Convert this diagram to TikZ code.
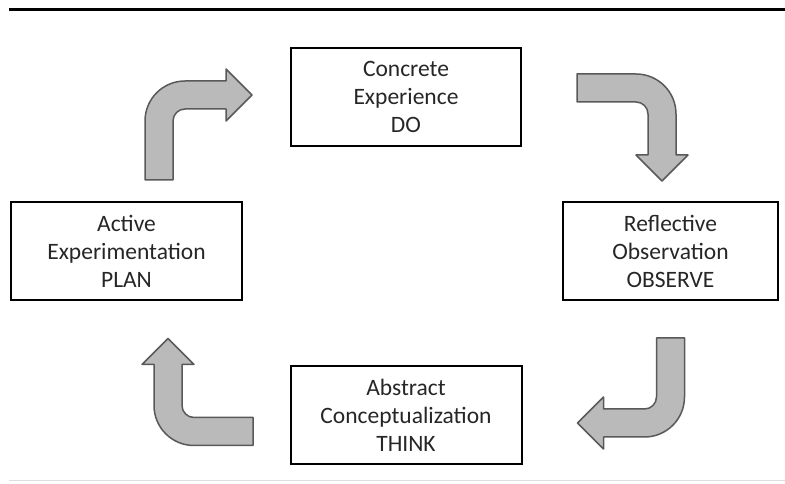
\documentclass[tikz,border=0pt]{standalone}
\usepackage{fontspec}
\setmainfont{Carlito}
\usetikzlibrary{positioning}
\tikzstyle{stage}=[draw=black,line width=2pt,rectangle,align=center,text=black!85,font=\fontsize{23.5}{28}\selectfont,inner sep=0pt,minimum height=98pt]
\tikzstyle{turn}=[draw=black!65,line width=1.5pt,fill=black!27,line join=round]
\tikzset{bentarrow/.pic={
    \draw[turn] (-14,0) -- (-14,59) arc (180:90:40pt) -- (67,99) -- (67,111)
        -- (93,85) -- (67,59) -- (67,71) -- (26,71) arc (90:180:12pt) -- (14,0) -- cycle;
}}

\begin{document}
\begin{tikzpicture}[x=1pt,y=1pt]
    \useasboundingbox (0,0) rectangle (785,484);
    % rules above and below
    \draw[line width=3pt] (9,474) -- (785,474);
    \draw[black!13,line width=1pt] (9,3) -- (785,3);
    % the four stages
    \node[stage, minimum width=230pt] (do) at (406,387) {Concrete\\Experience\\DO};
    \node[stage, minimum width=215pt] (observe) at (670.5,233) {Reflective\\Observation\\OBSERVE};
    \node[stage, minimum width=231pt, below=218pt of do] (think) {Abstract\\Conceptualization\\THINK};
    \node[stage, minimum width=231pt] (plan) at (126.5,233) {Active\\Experimentation\\PLAN};
    % bent arrows between them
    \pic at (159,304) {bentarrow};
    \pic[rotate=-90] at (577,396) {bentarrow};
    \pic[rotate=180] at (670.5,146) {bentarrow};
    \pic[rotate=90] at (253,52.5) {bentarrow};
\end{tikzpicture}
\end{document}
